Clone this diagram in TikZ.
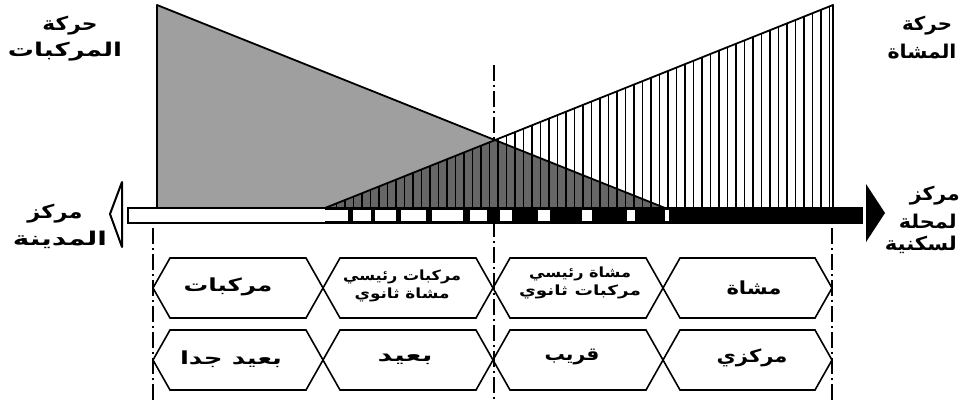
\documentclass[tikz,border=0pt]{standalone}
\usepackage{fontspec}
\usepackage{graphicx}
\newfontfamily\arabicfont[Script=Arabic]{DejaVu Sans}
\TeXXeTstate=1
\newcommand{\fitw}[2]{\resizebox{#1pt}{\height}{#2}}
\begin{document}
\begin{tikzpicture}[x=1pt,y=-1pt,
  hexline/.style={line width=1.6pt, line join=miter},
  dashdot/.style={line width=1.3pt, dash pattern=on 16pt off 4pt on 2pt off 4pt},
  outline/.style={line width=1.8pt, line join=round},
  lbl/.style={font=\arabicfont\bfseries\fontsize{19}{22}\selectfont, inner sep=0pt},
  hexlbl/.style={font=\arabicfont\bfseries\fontsize{18}{21}\selectfont, inner sep=0pt, align=center},
  smalllbl/.style={font=\arabicfont\bfseries\fontsize{14}{18}\selectfont, inner sep=0pt, align=center},
  vline/.style={line width=1.8pt}
]
\useasboundingbox (0,0) rectangle (968,400);
\fill[white] (0,0) rectangle (968,400);

% dash-dot guide lines
\draw[dashdot] (153,228) -- (153,400);
\draw[dashdot] (494,65) -- (494,400);
\draw[dashdot] (832,228) -- (832,400);

% vehicles triangle
\fill[gray!75] (157,5) -- (665,208) -- (157,208) -- cycle;
% overlap
\fill[black!60] (325,208) -- (494,140) -- (665,208) -- cycle;
% pedestrian triangle hatch
\begin{scope}
\clip (325,208) -- (833,5) -- (833,208) -- cycle;
\foreach \i in {0,...,60} \draw[vline] ({328+\i*8.5},0) -- ({328+\i*8.5},210);
\end{scope}
\draw[outline] (157,208) -- (157,5) -- (665,208);
\draw[outline] (325,208) -- (833,5) -- (833,208);

% bar
\fill[white] (128,208) rectangle (862,223);
\fill[black] (325,208) rectangle (862,223);
\foreach \a/\b in {325/348,353/371,375/396,401/426,432/463,470/487,500/512,538/550,582/592,627/635,665/669}
  \fill[white] (\a,210) rectangle (\b,221);
\draw[line width=1.3pt] (128,208) rectangle (862,223);

% arrowheads
\draw[outline, line width=2pt] (122,182) -- (110,214) -- (122,247) -- cycle;
\fill[black] (866,184) -- (885,213) -- (866,242) -- cycle;

% hexagons
\foreach \a/\b/\yc in {153/323/288,323/493/288,493/663/288,663/832/288,
                        153/323/360,323/493/360,493/663/360,663/832/360}
  \draw[hexline] (\a,\yc) -- (\a+17,\yc-30) -- (\b-17,\yc-30) -- (\b,\yc)
        -- (\b-17,\yc+30) -- (\a+17,\yc+30) -- cycle;

% labels top
\node[lbl] (vh1) at (70,26) {\fitw{55}{\beginR حركة\endR}};
\node[lbl] (vh2) at (65,52) {\fitw{114}{\beginR المركبات\endR}};
\node[lbl] (pd1) at (927,26) {\fitw{50}{\beginR حركة\endR}};
\node[lbl] (pd2) at (922,52) {\fitw{69}{\beginR المشاة\endR}};
% side labels
\node[lbl] (cc1) at (55,214) {\fitw{55}{\beginR مركز\endR}};
\node[lbl] (cc2) at (60,240) {\fitw{94}{\beginR المدينة\endR}};
\node[lbl, anchor=east] (rc1) at (960,196) {\fitw{50}{\beginR مركز\endR}};
\node[lbl, anchor=east] (rc2) at (957,221) {\fitw{58}{\beginR لمحلة\endR}};
\node[lbl, anchor=east] (rc3) at (957,245) {\fitw{72}{\beginR لسكنية\endR}};

% hexagon texts row 1
\node[hexlbl] (h1) at (228,287) {\fitw{89}{\beginR مركبات\endR}};
\node[smalllbl] (h2) at (402,286) {\fitw{118}{\beginR مركبات رئيسي\endR}\\\fitw{95}{\beginR مشاة ثانوي\endR}};
\node[smalllbl] (h3) at (580,283) {\fitw{102}{\beginR مشاة رئيسي\endR}\\\fitw{122}{\beginR مركبات ثانوي\endR}};
\node[hexlbl] (h4) at (754,288) {\fitw{55}{\beginR مشاة\endR}};
% row 2
\node[hexlbl] (g1) at (231,359) {\fitw{102}{\beginR بعيد جدا\endR}};
\node[hexlbl] (g2) at (405,359) {\fitw{55}{\beginR بعيد\endR}};
\node[hexlbl] (g3) at (572,357) {\fitw{55}{\beginR قريب\endR}};
\node[hexlbl] (g4) at (752,358) {\fitw{71}{\beginR مركزي\endR}};
\end{tikzpicture}
\end{document}
